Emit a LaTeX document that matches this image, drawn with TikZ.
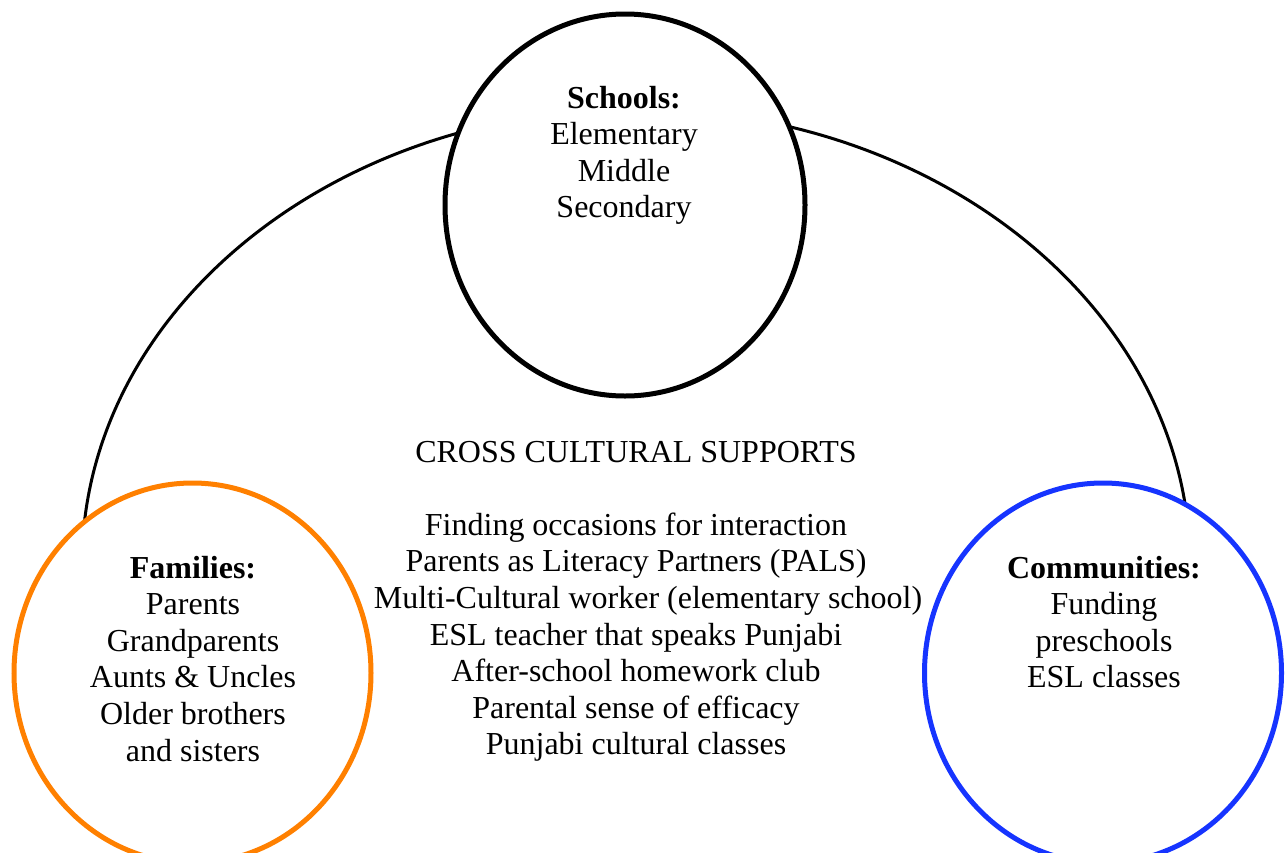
\documentclass[tikz,border=0pt]{standalone}
\usepackage{fontspec}
\setmainfont{Liberation Serif}
\usetikzlibrary{shapes.geometric}
\definecolor{famorange}{RGB}{255,128,0}
\definecolor{comblue}{RGB}{22,52,255}
\begin{document}
\begin{tikzpicture}[x=1pt,y=-1pt,
  ring/.style={shape=ellipse,draw,line width=5pt,fill=white,inner sep=0pt,
    minimum width=357pt,minimum height=380pt},
  txt/.style={anchor=base,inner sep=0pt,font=\fontsize{32}{36.6}\selectfont}]
\useasboundingbox (0,0) rectangle (1287,852);
\clip (0,0) rectangle (1287,852);
% big background arc
\draw[line width=3pt] (82,565) arc[start angle=180,end angle=360,x radius=554,y radius=456];
% circles
\node[ring,minimum width=360pt,minimum height=382pt] (schools) at (625,205) {};
\node[ring,draw=famorange] (families) at (192.5,673) {};
\node[ring,draw=comblue] (communities) at (1103,673) {};
% texts
\node[txt] (schoolstxt) at (624,108) {\begin{tabular}[t]{@{}c@{}}\textbf{Schools:}\\Elementary\\Middle\\Secondary\end{tabular}};
\node[txt] (familiestxt) at (193,578) {\begin{tabular}[t]{@{}c@{}}\textbf{Families:}\\Parents\\Grandparents\\Aunts \& Uncles\\Older brothers\\and sisters\end{tabular}};
\node[txt] (communitiestxt) at (1104,578) {\begin{tabular}[t]{@{}c@{}}\textbf{Communities:}\\Funding\\preschools\\ESL classes\end{tabular}};
\node[txt] (supports) at (636,462) {\begin{tabular}[t]{@{}c@{}}CROSS CULTURAL SUPPORTS\\ \\Finding occasions for interaction\\Parents as Literacy Partners (PALS)\\\hspace*{24pt}Multi-Cultural worker (elementary school)\\ESL teacher that speaks Punjabi\\After-school homework club\\Parental sense of efficacy\\Punjabi cultural classes\end{tabular}};
\end{tikzpicture}
\end{document}
